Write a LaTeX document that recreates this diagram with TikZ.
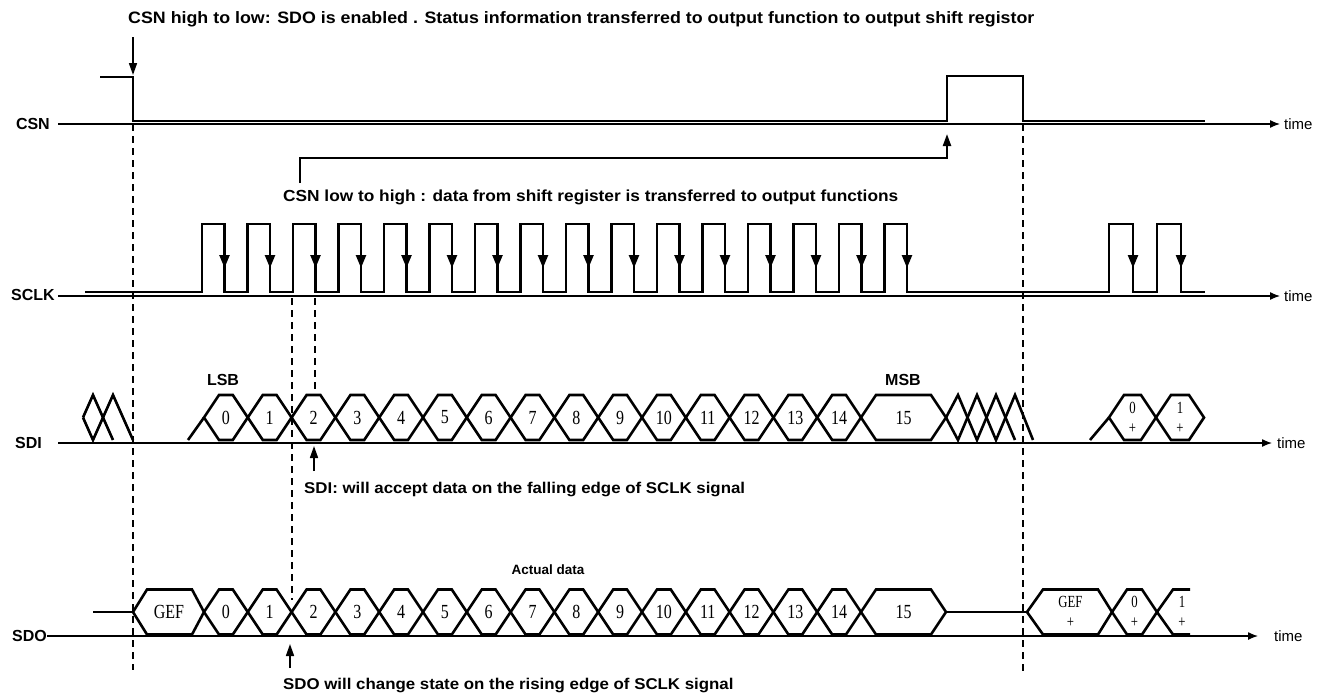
\documentclass[tikz,border=0pt]{standalone}
\usepackage{fontspec}
\setmainfont{Liberation Sans}
\newfontfamily\notefont[FakeStretch=1.08]{Liberation Sans}
\newfontfamily\bitfont[FakeStretch=0.8]{Liberation Serif}
\newfontfamily\bitnarrow[FakeStretch=0.75]{Liberation Serif}
\usetikzlibrary{arrows.meta}

\begin{document}
\begin{tikzpicture}[x=1pt,y=-1pt,
  every node/.style={inner sep=0pt},
  wave/.style={line width=2.6pt,line join=miter,miter limit=6},
  axis/.style={line width=1.3pt,-{Latex[length=10pt,width=8pt]}},
  guide/.style={line width=1.5pt,dash pattern=on 7pt off 5pt},
  pointer/.style={line width=1.6pt,-{Triangle[length=12pt,width=8pt]}},
  edgetip/.style={line width=2.4pt,-{Triangle[length=13pt,width=10pt]}},
  note/.style={font=\notefont\bfseries\fontsize{16}{18}\selectfont,anchor=west},
  signame/.style={font=\bfseries\fontsize{16}{18}\selectfont,anchor=east},
  timelbl/.style={font=\fontsize{15}{17}\selectfont,anchor=west},
  bit/.style={font=\bitfont\fontsize{20}{22}\selectfont},
  bitstack/.style={font=\bitnarrow\fontsize{17}{20}\selectfont,align=center}]
\useasboundingbox (0,0) rectangle (1325,694);

% signal names and time axes
\node[signame] (csn) at (50,124) {CSN};
\node[signame] (sclk) at (55,295) {SCLK};
\node[signame] (sdi) at (42,443) {SDI};
\node[signame] (sdo) at (47,636) {SDO};
\coordinate (csnend) at (1280,124);
\coordinate (sclkend) at (1280,296);
\coordinate (sdiend) at (1272,443);
\coordinate (sdoend) at (1258,636);
\draw[axis] (58,124) -- (csnend);
\draw[axis] (58,296) -- (sclkend);
\draw[axis] (58,443) -- (sdiend);
\draw[axis] (sdo.east) -- (sdoend);
\node[timelbl] (t1) at (1284,124) {time};
\node[timelbl] (t2) at (1284,296) {time};
\node[timelbl] (t3) at (1277,443) {time};
\node[timelbl] (t4) at (1274,636) {time};

% CSN
\draw[wave] (100,77) -- (133,77) -- (133,121) -- (947,121) -- (947,76) -- (1023,76) -- (1023,121) -- (1205,121);

% SCLK
\draw[wave] (85,292) -- (202,292)
  \foreach \k in {0,...,15}{ -- ({202+45.5*\k},224) -- ({224.5+45.5*\k},224) -- ({224.5+45.5*\k},292) -- ({247.5+45.5*\k},292)}
  -- (1109,292) -- (1109,224) -- (1133,224) -- (1133,292) -- (1157,292) -- (1157,224) -- (1181,224) -- (1181,292) -- (1205,292);
\foreach \k in {0,...,15}
  \draw[edgetip] ({224.5+45.5*\k},226) -- ({224.5+45.5*\k},268);
\foreach \x in {1133,1181}
  \draw[edgetip] (\x,226) -- (\x,268);

% data bits, SDI and SDO
\foreach \row/\m in {sdi/417.5,sdo/612}{
  \foreach \k in {0,...,14}{
    \pgfmathsetmacro\l{204+43.8*\k}
    \draw[wave] (\l,\m) -- ++(15,-22.5) -- ++(13.8,0) -- ++(15,22.5) -- ++(-15,22.5) -- ++(-13.8,0) -- cycle;
    \node[bit] (\row\k) at ({\l+21.9},\m) {\k};
  }
  \draw[wave] (861,\m) -- (876,{\m-22.5}) -- (931,{\m-22.5}) -- (946,\m) -- (931,{\m+22.5}) -- (876,{\m+22.5}) -- cycle;
  \node[bit] (\row15) at (903.5,\m) {15};
}

% SDI idle and next frame
\draw[wave] (83,417.5) -- (93,395) -- (113,440);
\draw[wave] (83,417.5) -- (93,440) -- (113,395) -- (133,440);
\draw[wave] (188,440) -- (204,417.5);
\draw[wave] (946,417.5) -- (958,395) -- (977,440) -- (996,395) -- (1015,440);
\draw[wave] (946,417.5) -- (958,440) -- (977,395) -- (996,440) -- (1015,395) -- (1033,440);
\draw[wave] (1090,440) -- (1109,417.5);
\draw[wave] (1109,417.5) -- (1124,395) -- (1141,395) -- (1156,417.5) -- (1141,440) -- (1124,440) -- cycle;
\draw[wave] (1156,417.5) -- (1171,395) -- (1189,395) -- (1204,417.5) -- (1189,440) -- (1171,440) -- cycle;
\node[bitstack] (sdinext0) at (1132.5,417.5) {0\\+};
\node[bitstack] (sdinext1) at (1180,417.5) {1\\+};
\node[note,anchor=center,font=\bfseries\fontsize{16}{18}\selectfont] (lsb) at (223,380) {LSB};
\node[note,anchor=center,font=\bfseries\fontsize{16}{18}\selectfont] (msb) at (903,380) {MSB};

% SDO status word and next frame
\draw[wave] (93,612) -- (133,612);
\draw[wave] (133,612) -- (147,589.5) -- (192,589.5) -- (204,612) -- (192,634.5) -- (147,634.5) -- cycle;
\node[bit] (gef) at (169,612) {GEF};
\draw[wave] (946,612) -- (1027,612);
\draw[wave] (1027,612) -- (1043,589.5) -- (1098,589.5) -- (1112,612) -- (1098,634.5) -- (1043,634.5) -- cycle;
\draw[wave] (1112,612) -- (1127,589.5) -- (1142,589.5) -- (1157,612) -- (1142,634.5) -- (1127,634.5) -- cycle;
\draw[wave] (1190,589.5) -- (1173,589.5) -- (1157,612) -- (1173,634.5) -- (1190,634.5);
\node[bitstack] (gefnext) at (1070.5,612) {GEF\\+};
\node[bitstack] (sdonext0) at (1134.5,612) {0\\+};
\node[bitstack] (sdonext1) at (1182,612) {1\\+};
\node[note,anchor=center,font=\bfseries\fontsize{13.5}{15}\selectfont] (actual) at (548,570) {Actual data};

% timing guides
\draw[guide] (133,124) -- (133,670);
\draw[guide] (1023,124) -- (1023,672);
\draw[guide] (292,298) -- (292,600);
\draw[guide] (315,298) -- (315,395);

% notes
\node[note,font=\notefont\bfseries\fontsize{16.5}{18}\selectfont] (fallnote) at (128,19) {CSN high to low: SDO is enabled . Status information transferred to output function to output shift registor};
\node[note] (risenote) at (283,197) {CSN low to high : data from shift register is transferred to output functions};
\node[note,font=\notefont\bfseries\fontsize{15.6}{18}\selectfont] (sdinote) at (304,489) {SDI: will accept data on the falling edge of SCLK signal};
\node[note,font=\notefont\bfseries\fontsize{15.6}{18}\selectfont] (sdonote) at (283,685) {SDO will change state on the rising edge of SCLK signal};
\coordinate (fallfrom) at (133,37);
\coordinate (fallto) at (133,75);
\coordinate (risefrom) at (300,183);
\coordinate (riseto) at (947,134);
\coordinate (sdifrom) at (314,471);
\coordinate (sdito) at (314,446);
\coordinate (sdofrom) at (290,668);
\coordinate (sdoto) at (290,644);
\draw[pointer] (fallfrom) -- (fallto);
\draw[pointer,line width=2.2pt] (risefrom) |- (600,158) -| (riseto);
\draw[pointer] (sdifrom) -- (sdito);
\draw[pointer] (sdofrom) -- (sdoto);
\end{tikzpicture}
\end{document}
